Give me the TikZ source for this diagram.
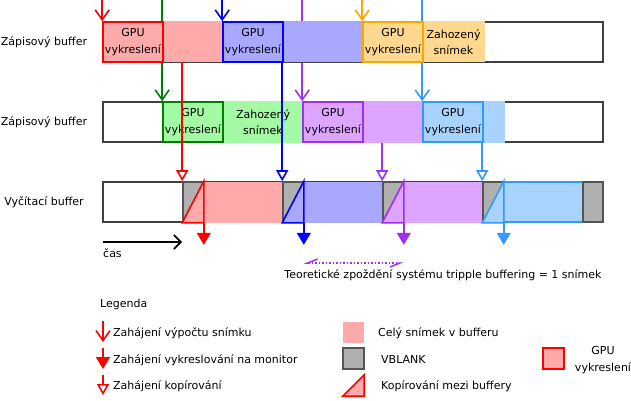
\documentclass[tikz,border=0pt]{standalone}
\usepackage{fontspec}
\setmainfont{DejaVu Sans}
\usetikzlibrary{arrows.meta,backgrounds}

\begin{document}
\begin{tikzpicture}[x=1pt,y=-1pt,
    every node/.style={font=\fontsize{11}{16.5}\selectfont},
    seg/.style={rectangle, inner sep=0pt, minimum height=40pt, align=center},
    fillseg/.style={seg, line width=1pt},
    gpubox/.style={seg, minimum width=60pt, line width=1.6pt},
    rowframe/.style={seg, minimum width=500pt, draw=framegray, line width=1.2pt},
    vblank/.style={seg, minimum width=20pt, fill=vgray, draw=vdark, line width=1.6pt},
    calcarrow/.style={line width=1.6pt, -{Straight Barb[length=10pt,width=14pt]}},
    copyarrow/.style={line width=1.6pt, -{Triangle[open,length=11pt,width=12pt]}},
    showarrow/.style={line width=1.6pt, -{Triangle[length=12pt,width=14pt]}},
    copytri/.style={line width=1.6pt, line join=miter}]
    % Define colors
    \definecolor{cred}{RGB}{255,0,0}
    \definecolor{lred}{RGB}{255,170,170}
    \definecolor{cblue}{RGB}{0,0,255}
    \definecolor{lblue}{RGB}{168,168,255}
    \definecolor{corange}{RGB}{255,165,0}
    \definecolor{lorange}{RGB}{255,216,144}
    \definecolor{cgreen}{RGB}{0,128,0}
    \definecolor{lgreen}{RGB}{164,250,164}
    \definecolor{cpurple}{RGB}{160,48,240}
    \definecolor{lpurple}{RGB}{221,165,255}
    \definecolor{csky}{RGB}{51,153,255}
    \definecolor{lsky}{RGB}{168,211,255}
    \definecolor{vgray}{RGB}{176,176,176}
    \definecolor{vdark}{RGB}{85,85,85}
    \definecolor{framegray}{RGB}{64,64,64}

    \useasboundingbox (0,0) rectangle (631,401);
    \coordinate (top) at (0,0);
    \coordinate (lat) at (0,263);

    % Row labels
    \node (lab1) at (44,42) {Zápisový buffer};
    \node (lab2) at (44,122) {Zápisový buffer};
    \node (lab3) at (44,202) {Vyčítací buffer};

    % Rows (frames)
    \node[rowframe] (row1) at (353,42) {};
    \node[rowframe] (row2) at (353,122) {};
    \node[rowframe] (row3) at (353,202) {};

    % Row 1
    \node[fillseg, fill=lred, draw=lred, minimum width=60pt] (w1b) at (193,42) {};
    \node[fillseg, fill=lblue, draw=lblue, minimum width=80pt] (w1d) at (323,42) {};
    \node[fillseg, fill=lorange, draw=lorange, minimum width=61pt] (w1f) at (453.5,42) {Zahozený\\snímek};
    \node[gpubox, fill=lred, draw=cred] (w1a) at (133,42) {GPU\\vykreslení};
    \node[gpubox, fill=lblue, draw=cblue] (w1c) at (253,42) {GPU\\vykreslení};
    \node[gpubox, fill=lorange, draw=corange] (w1e) at (393,42) {GPU\\vykreslení};

    % Row 2
    \node[fillseg, fill=lgreen, draw=lgreen, minimum width=80pt] (w2b) at (263,122) {Zahozený\\snímek};
    \node[fillseg, fill=lpurple, draw=lpurple, minimum width=60pt] (w2d) at (393,122) {};
    \node[fillseg, fill=lsky, draw=lsky, minimum width=21pt] (w2f) at (493.5,122) {};
    \node[gpubox, fill=lgreen, draw=cgreen] (w2a) at (193,122) {GPU\\vykreslení};
    \node[gpubox, fill=lpurple, draw=cpurple] (w2c) at (333,122) {GPU\\vykreslení};
    \node[gpubox, fill=lsky, draw=csky] (w2e) at (453,122) {GPU\\vykreslení};

    % Long compute arrows (behind row 1)
    \begin{pgfonlayer}{background}
        \draw[calcarrow, cgreen] (w2a.north west |- top) -- (w2a.north west);
        \draw[calcarrow, cpurple] (w2c.north west |- top) -- (w2c.north west);
        \draw[calcarrow, csky] (w2e.north west |- top) -- (w2e.north west);
    \end{pgfonlayer}

    % Row 3
    \node[fillseg, fill=lred, draw=lred, minimum width=80pt] (r3a) at (243,202) {};
    \node[fillseg, fill=lblue, draw=lblue, minimum width=80pt] (r3b) at (343,202) {};
    \node[fillseg, fill=lpurple, draw=lpurple, minimum width=80pt] (r3c) at (443,202) {};
    \node[seg, minimum width=80pt, fill=lsky, draw=csky, line width=1.6pt] (r3d) at (543,202) {};
    \node[vblank] (vb1) at (193,202) {};
    \node[vblank] (vb2) at (293,202) {};
    \node[vblank] (vb3) at (393,202) {};
    \node[vblank] (vb4) at (493,202) {};
    \node[vblank] (vb5) at (593,202) {};
    \filldraw[copytri, draw=cred, fill=lred] (vb1.south west) -- (vb1.north east) -- (vb1.south east) -- cycle;
    \filldraw[copytri, draw=cblue, fill=lblue] (vb2.south west) -- (vb2.north east) -- (vb2.south east) -- cycle;
    \filldraw[copytri, draw=cpurple, fill=lpurple] (vb3.south west) -- (vb3.north east) -- (vb3.south east) -- cycle;
    \filldraw[copytri, draw=csky, fill=lsky] (vb4.south west) -- (vb4.north east) -- (vb4.south east) -- cycle;

    % Start of computing
    \draw[calcarrow, cred] (w1a.north west |- top) -- (w1a.north west);
    \draw[calcarrow, cblue] (w1c.north west |- top) -- (w1c.north west);
    \draw[calcarrow, corange] (w1e.north west |- top) -- (w1e.north west);

    % Copy arrows
    \draw[copyarrow, cred] (vb1.north west |- w1b.south) -- (vb1.north west);
    \draw[copyarrow, cblue] (vb2.north west |- w1d.south) -- (vb2.north west);
    \draw[copyarrow, cpurple] (vb3.north west |- w2d.south) -- (vb3.north west);
    \draw[copyarrow, csky] (vb4.north west |- w2e.south) -- (vb4.north west);

    % Display arrows
    \draw[showarrow, cred] (vb1.south east) -- ++(0,22);
    \draw[showarrow, cblue] (vb2.south east) -- ++(0,22);
    \draw[showarrow, cpurple] (vb3.south east) -- ++(0,22);
    \draw[showarrow, csky] (vb4.south east) -- ++(0,22);

    % Time axis
    \coordinate (t0) at (103,242);
    \draw[line width=1.8pt, -{Straight Barb[length=7pt,width=14pt]}] (t0) -- (vb1.south west |- t0);
    \node[anchor=north west, inner sep=0pt] (cas) at (103,248) {čas};

    % Latency
    \draw[cpurple, line width=1.5pt, dotted, {Straight Barb[harpoon,swap,length=10pt,width=8pt]}-{Straight Barb[harpoon,swap,length=10pt,width=8pt]}]
        (vb2.south east |- lat) -- (vb3.south east |- lat);
    \node (latxt) at (443,275) {Teoretické zpoždění systému tripple buffering = 1 snímek};

    % Legend
    \node[anchor=west, inner sep=0pt] (leg) at (100,304) {Legenda};
    \coordinate (la1) at (103,321); \coordinate (lb1) at (103,342);
    \coordinate (la2) at (103,348); \coordinate (lb2) at (103,369);
    \coordinate (la3) at (103,375); \coordinate (lb3) at (103,395);
    \draw[calcarrow, cred] (la1) -- (lb1);
    \draw[showarrow, cred] (la2) -- (lb2);
    \draw[copyarrow, cred] (la3) -- (lb3);
    \node[anchor=west, inner sep=0pt] (lt1) at (113,333) {Zahájení výpočtu snímku};
    \node[anchor=west, inner sep=0pt] (lt2) at (113,360) {Zahájení vykreslování na monitor};
    \node[anchor=west, inner sep=0pt] (lt3) at (113,386) {Zahájení kopírování};

    \node[seg, minimum width=21pt, minimum height=21pt, fill=lred] (lg1) at (353.5,332.5) {};
    \node[vblank, minimum width=21pt, minimum height=21pt] (lg2) at (353.5,358.5) {};
    \node[seg, minimum width=21pt, minimum height=21pt] (lg3) at (353.5,385.5) {};
    \filldraw[copytri, draw=cred, fill=lred] (lg3.south west) -- (lg3.north east) -- (lg3.south east) -- cycle;
    \node[anchor=west, inner sep=0pt] (lt4) at (378,333) {Celý snímek v bufferu};
    \node[anchor=west, inner sep=0pt] (lt5) at (381,359) {VBLANK};
    \node[anchor=west, inner sep=0pt] (lt6) at (381,386) {Kopírování mezi buffery};
    \node[seg, minimum width=21pt, minimum height=21pt, fill=lred, draw=cred, line width=1.6pt] (lg4) at (553.5,358.5) {};
    \node[align=center] (lt7) at (603,360) {GPU\\vykreslení};
\end{tikzpicture}
\end{document}
